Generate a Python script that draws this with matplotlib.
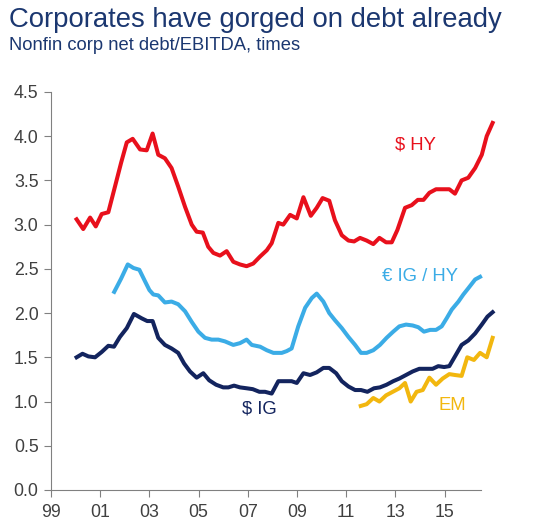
import matplotlib.pyplot as plt

plt.rcParams["font.family"] = ["Liberation Sans", "DejaVu Sans"]

# $ HY
hy_x = [2000.04, 2000.31, 2000.59, 2000.82, 2001.06, 2001.33, 2001.60, 2001.85, 2002.08, 2002.32,
        2002.62, 2002.89, 2003.13, 2003.36, 2003.63, 2003.90, 2004.17, 2004.45, 2004.72, 2004.92,
        2005.17, 2005.39, 2005.60, 2005.87, 2006.14, 2006.41, 2006.68, 2006.95, 2007.22, 2007.50,
        2007.77, 2007.97, 2008.24, 2008.44, 2008.72, 2008.99, 2009.26, 2009.56, 2009.80, 2010.04,
        2010.31, 2010.54, 2010.82, 2011.09, 2011.32, 2011.56, 2011.83, 2012.10, 2012.35, 2012.62,
        2012.85, 2013.08, 2013.39, 2013.66, 2013.91, 2014.14, 2014.38, 2014.65, 2014.95, 2015.19,
        2015.42, 2015.69, 2015.96, 2016.24, 2016.51, 2016.71, 2016.95]
hy_y = [3.06, 2.95, 3.08, 2.98, 3.12, 3.14, 3.43, 3.70, 3.93, 3.97,
        3.85, 3.84, 4.03, 3.79, 3.75, 3.64, 3.43, 3.20, 3.00, 2.92,
        2.91, 2.75, 2.68, 2.65, 2.70, 2.58, 2.55, 2.53, 2.56, 2.64,
        2.71, 2.79, 3.02, 3.00, 3.11, 3.07, 3.31, 3.10, 3.19, 3.30,
        3.27, 3.05, 2.88, 2.82, 2.81, 2.85, 2.82, 2.78, 2.85, 2.80,
        2.80, 2.94, 3.19, 3.22, 3.28, 3.28, 3.36, 3.40, 3.40, 3.40,
        3.35, 3.50, 3.53, 3.64, 3.79, 4.00, 4.15]

# EUR IG / HY
eu_x = [2001.57, 2001.85, 2002.12, 2002.35, 2002.59, 2002.82, 2003.00, 2003.16, 2003.36, 2003.63,
        2003.90, 2004.17, 2004.45, 2004.72, 2004.99, 2005.26, 2005.53, 2005.80, 2006.07, 2006.41,
        2006.68, 2006.95, 2007.16, 2007.50, 2007.77, 2008.04, 2008.38, 2008.58, 2008.78, 2009.05,
        2009.33, 2009.60, 2009.80, 2010.07, 2010.31, 2010.54, 2010.82, 2011.09, 2011.36, 2011.60,
        2011.83, 2012.10, 2012.37, 2012.64, 2012.91, 2013.16, 2013.43, 2013.70, 2013.93, 2014.16,
        2014.41, 2014.65, 2014.88, 2015.08, 2015.29, 2015.56, 2015.76, 2015.96, 2016.24, 2016.44]
eu_y = [2.24, 2.39, 2.55, 2.51, 2.49, 2.36, 2.26, 2.21, 2.20, 2.12,
        2.13, 2.10, 2.02, 1.90, 1.79, 1.72, 1.70, 1.70, 1.68, 1.64,
        1.66, 1.70, 1.64, 1.62, 1.58, 1.55, 1.55, 1.57, 1.60, 1.85,
        2.06, 2.17, 2.22, 2.13, 2.00, 1.92, 1.83, 1.73, 1.64, 1.55,
        1.55, 1.58, 1.64, 1.72, 1.79, 1.85, 1.87, 1.86, 1.84, 1.79,
        1.81, 1.81, 1.85, 1.94, 2.04, 2.13, 2.21, 2.28, 2.38, 2.41]

# $ IG
ig_x = [2000.04, 2000.28, 2000.52, 2000.79, 2001.06, 2001.33, 2001.56, 2001.80, 2002.08, 2002.37,
        2002.69, 2002.91, 2003.13, 2003.36, 2003.63, 2003.90, 2004.17, 2004.41, 2004.65, 2004.92,
        2005.19, 2005.43, 2005.71, 2006.00, 2006.21, 2006.44, 2006.68, 2006.95, 2007.20, 2007.47,
        2007.70, 2007.97, 2008.24, 2008.51, 2008.78, 2008.99, 2009.26, 2009.53, 2009.80, 2010.07,
        2010.31, 2010.59, 2010.82, 2011.09, 2011.36, 2011.60, 2011.86, 2012.13, 2012.37, 2012.64,
        2012.91, 2013.16, 2013.43, 2013.70, 2013.97, 2014.27, 2014.51, 2014.74, 2014.98, 2015.19,
        2015.42, 2015.69, 2015.96, 2016.24, 2016.51, 2016.74, 2016.95]
ig_y = [1.50, 1.54, 1.51, 1.50, 1.56, 1.63, 1.62, 1.73, 1.83, 1.99,
        1.94, 1.91, 1.91, 1.72, 1.64, 1.60, 1.55, 1.43, 1.34, 1.27,
        1.32, 1.24, 1.19, 1.16, 1.16, 1.18, 1.16, 1.15, 1.14, 1.11,
        1.11, 1.09, 1.23, 1.23, 1.23, 1.21, 1.32, 1.30, 1.33, 1.38,
        1.38, 1.32, 1.23, 1.17, 1.13, 1.13, 1.11, 1.15, 1.16, 1.19,
        1.23, 1.26, 1.30, 1.34, 1.37, 1.37, 1.37, 1.40, 1.39, 1.40,
        1.51, 1.64, 1.69, 1.77, 1.87, 1.96, 2.01]

# EM
em_x = [2011.59, 2011.83, 2012.10, 2012.35, 2012.62, 2012.89, 2013.16, 2013.39, 2013.62, 2013.86,
        2014.11, 2014.38, 2014.65, 2014.92, 2015.19, 2015.42, 2015.69, 2015.92, 2016.19, 2016.44,
        2016.71, 2016.95]
em_y = [0.95, 0.97, 1.04, 1.00, 1.07, 1.11, 1.15, 1.21, 1.00, 1.11,
        1.13, 1.27, 1.19, 1.26, 1.31, 1.30, 1.29, 1.50, 1.47, 1.55,
        1.50, 1.72]

tick_years = [1999, 2001, 2003, 2005, 2007, 2009, 2011, 2013, 2015]
tick_labels = ["99", "01", "03", "05", "07", "09", "11", "13", "15"]
y_ticks = [0.0, 0.5, 1.0, 1.5, 2.0, 2.5, 3.0, 3.5, 4.0, 4.5]

red = "#E8101C"
light_blue = "#3BACE6"
navy = "#13245E"
yellow = "#F2B70F"
title_blue = "#1B3770"
grey = "#808080"

fig = plt.figure(figsize=(5.38, 5.30), dpi=100)
ax = fig.add_axes([0.0948, 0.0755, 0.8277, 0.751])

lw = 2.9
ax.plot(hy_x, hy_y, color=red, lw=lw, solid_joinstyle="round")
ax.plot(eu_x, eu_y, color=light_blue, lw=lw, solid_joinstyle="round")
ax.plot(ig_x, ig_y, color=navy, lw=lw, solid_joinstyle="round")
ax.plot(em_x, em_y, color=yellow, lw=lw, solid_joinstyle="round")

ax.text(2013.8, 3.9, "$ HY", color=red, fontsize=13.3, ha="center", va="center")
ax.text(2014.0, 2.41, "€ IG / HY", color=light_blue, fontsize=13.3, ha="center", va="center")
ax.text(2007.45, 0.91, "$ IG", color=navy, fontsize=13.3, ha="center", va="center")
ax.text(2015.3, 0.95, "EM", color=yellow, fontsize=13.3, ha="center", va="center")

ax.set_xlim(1999, 2017.1)
ax.set_ylim(0, 4.5)
ax.set_xticks(tick_years)
ax.set_xticklabels(tick_labels)
ax.set_yticks(y_ticks)
ax.set_yticklabels([f"{v:.1f}" for v in y_ticks])
ax.spines["top"].set_visible(False)
ax.spines["right"].set_visible(False)
ax.spines["bottom"].set_bounds(1999, 2016.48)
for s in ["left", "bottom"]:
    ax.spines[s].set_color(grey)
    ax.spines[s].set_linewidth(0.8)
ax.tick_params(axis="both", colors=grey, length=5, width=0.8, labelsize=12.8,
               labelcolor="#404040")
ax.tick_params(axis="x", pad=5)
ax.tick_params(axis="y", pad=4)

fig.text(0.017, 0.963, "Corporates have gorged on debt already", color=title_blue,
         fontsize=19.8, ha="left", va="center")
fig.text(0.017, 0.914, "Nonfin corp net debt/EBITDA, times", color=title_blue,
         fontsize=13.2, ha="left", va="center")

plt.savefig("out.png", dpi=100)
